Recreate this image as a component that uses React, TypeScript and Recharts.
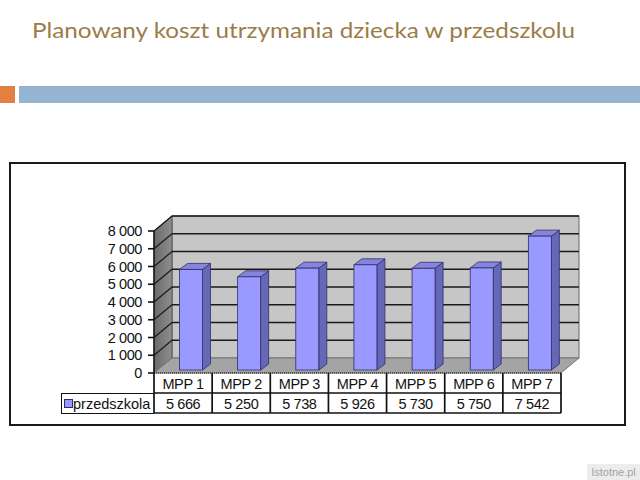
import React from 'react';
import { BarChart, Bar, XAxis, YAxis, CartesianGrid, ReferenceArea, Legend } from 'recharts';

const title = 'Planowany koszt utrzymania dziecka w przedszkolu';
const categories = ['MPP 1', 'MPP 2', 'MPP 3', 'MPP 4', 'MPP 5', 'MPP 6', 'MPP 7'];
const values = [5666, 5250, 5738, 5926, 5730, 5750, 7542];
const seriesName = 'przedszkola';
const yTicks = [0, 1000, 2000, 3000, 4000, 5000, 6000, 7000, 8000];
const gridValues = [1000, 2000, 3000, 4000, 5000, 6000, 7000, 8000];
const watermark = 'Istotne.pl';

const data = categories.map((c, i) => ({ name: c, [seriesName]: values[i] }));

const W = 640;
const H = 480;
const MARGIN = { top: 231, right: 79, bottom: 67, left: 0 };
const Y_W = 154;
const X_H = 40;
const PLOT_W = W - MARGIN.left - MARGIN.right - Y_W;
const COL_W = PLOT_W / categories.length;
const ROW = 20;
const DX = 18;
const DY = -15;
const FONT = '"Liberation Sans", Arial, sans-serif';
const FS = 14.5;
const LS = -0.4;
const LINE = '#111';

const fmt = (v: number) => String(v).replace(/\B(?=(\d{3})+(?!\d))/g, ' ');

const Walls = (props: any) => {
  const { x, y, width: w, height: h } = props;
  return (
    <g>
      <defs>
        <linearGradient id="sideGrad" x1="0" y1="0" x2="1" y2="0">
          <stop offset="0%" stopColor="#6a6a6a" />
          <stop offset="100%" stopColor="#8e8e8e" />
        </linearGradient>
      </defs>
      <rect x={x + DX} y={y + DY} width={w} height={h} fill="#c6c6c6" stroke="#666" strokeWidth={1} />
      <polygon
        points={`${x},${y} ${x + DX},${y + DY} ${x + DX},${y + h + DY} ${x},${y + h}`}
        fill="url(#sideGrad)"
        stroke="#555"
        strokeWidth={1}
      />
      <polygon
        points={`${x},${y + h} ${x + DX},${y + h + DY} ${x + w + DX},${y + h + DY} ${x + w},${y + h}`}
        fill="#a4a4a4"
        stroke="#777"
        strokeWidth={1}
      />
      <line x1={x} y1={y + h} x2={x + w} y2={y + h} stroke="#111" strokeWidth={1.2} strokeDasharray="1 1" />
    </g>
  );
};

const GridLine = (props: any) => {
  const { x1, y1, x2, y2 } = props;
  return (
    <g>
      <line x1={x1 + DX} y1={y1 + DY} x2={x2 + DX} y2={y2 + DY} stroke="#1a1a1a" strokeWidth={1.6} />
      <line x1={x1} y1={y1} x2={x1 + DX} y2={y1 + DY} stroke="#1a1a1a" strokeWidth={1.2} />
    </g>
  );
};

const OX = 7.5;
const OY = -3;
const BD = 8;
const BDY = 6;

const Bar3D = (props: any) => {
  const { x, y, width: w, height: h } = props;
  if (w == null || h == null) return null;
  const fx = x + OX;
  const fy = y + OY;
  return (
    <g>
      <polygon
        points={`${fx + w},${fy} ${fx + w + BD},${fy - BDY} ${fx + w + BD},${fy + h - BDY} ${fx + w},${fy + h}`}
        fill="#6767b8"
        stroke="#2e2e66"
        strokeWidth={0.8}
      />
      <polygon
        points={`${fx},${fy} ${fx + BD},${fy - BDY} ${fx + w + BD},${fy - BDY} ${fx + w},${fy}`}
        fill="#8585e0"
        stroke="#2e2e66"
        strokeWidth={0.8}
      />
      <rect x={fx} y={fy} width={w} height={h} fill="#9999ff" stroke="#2e2e66" strokeWidth={0.8} />
    </g>
  );
};

const XTick = (props: any) => {
  const { x, y, payload } = props;
  const i = categories.indexOf(payload.value);
  const left = x - COL_W / 2;
  const right = x + COL_W / 2;
  return (
    <g>
      <line x1={left} y1={y} x2={left} y2={y + ROW * 2} stroke={LINE} strokeWidth={1.7} />
      {i === categories.length - 1 && (
        <line x1={right} y1={y} x2={right} y2={y + ROW * 2} stroke={LINE} strokeWidth={1.7} />
      )}
      <line x1={left} y1={y + ROW} x2={right} y2={y + ROW} stroke={LINE} strokeWidth={1.7} />
      <line x1={left} y1={y + ROW * 2} x2={right} y2={y + ROW * 2} stroke={LINE} strokeWidth={1.7} />
      <text x={x} y={y + 16} textAnchor="middle" fontSize={FS} letterSpacing={LS} fontFamily={FONT} fill="#111">
        {payload.value}
      </text>
      <text x={x} y={y + ROW + 16} textAnchor="middle" fontSize={FS} letterSpacing={LS} fontFamily={FONT} fill="#111">
        {fmt(values[i])}
      </text>
    </g>
  );
};

const LegendCell = (props: any) => {
  const { payload } = props;
  const item = payload && payload[0];
  return (
    <div
      style={{
        width: 93,
        height: 21,
        boxSizing: 'border-box',
        borderTop: `1.7px solid ${LINE}`,
        borderBottom: `1.7px solid ${LINE}`,
        borderLeft: `1.7px solid ${LINE}`,
        display: 'flex',
        alignItems: 'center',
        paddingLeft: 2,
        fontFamily: FONT,
        fontSize: 14.5,
        color: '#111',
        whiteSpace: 'nowrap',
        overflow: 'visible',
      }}
    >
      <span
        style={{
          display: 'inline-block',
          flex: '0 0 auto',
          width: 7,
          height: 7,
          background: item ? item.color : '#9999ff',
          border: '1px solid #2e2e66',
          marginRight: 0,
        }}
      />
      <span>{item ? item.value : seriesName}</span>
    </div>
  );
};

export default function App() {
  return (
    <div style={{ position: 'absolute', left: 0, top: 0, width: W, height: H, background: '#fff', overflow: 'hidden' }}>
      <svg style={{ position: 'absolute', left: 0, top: 0 }} width={W} height={60}>
        <text
          x={32}
          y={38}
          fontSize={22}
          fontFamily='Lato, "Open Sans", sans-serif'
          fill="#9a7d48"
          textLength={543}
          lengthAdjust="spacingAndGlyphs"
        >
          {title}
        </text>
      </svg>
      <div style={{ position: 'absolute', left: 0, top: 86, width: 15, height: 17, background: '#e2813f' }} />
      <div style={{ position: 'absolute', left: 19, top: 86, width: 621, height: 17, background: '#95b4d1' }} />
      <div
        style={{
          position: 'absolute',
          left: 9,
          top: 162,
          width: 617,
          height: 264,
          boxSizing: 'border-box',
          border: '2px solid #1a1a1a',
        }}
      />
      <div
        style={{
          position: 'absolute',
          left: 587,
          top: 464,
          width: 53,
          height: 16,
          background: '#ececec',
          color: '#a3a3a3',
          fontFamily: FONT,
          fontSize: 11,
          lineHeight: '16px',
          textAlign: 'center',
        }}
      >
        {watermark}
      </div>
      <div style={{ position: 'absolute', left: 0, top: 0 }}>
        <BarChart width={W} height={H} data={data} margin={MARGIN}>
          <ReferenceArea y1={0} y2={8000} shape={Walls} zIndex={-200} ifOverflow="visible" />
          <CartesianGrid vertical={false} horizontal={GridLine} horizontalValues={gridValues} zIndex={-150} />
          <XAxis
            dataKey="name"
            height={X_H}
            axisLine={false}
            tickLine={false}
            tickSize={0}
            tickMargin={0}
            interval={0}
            tick={XTick}
          />
          <YAxis
            width={Y_W}
            domain={[0, 8000]}
            ticks={yTicks}
            interval={0}
            tickFormatter={fmt}
            tickSize={6}
            tickMargin={6}
            axisLine={{ stroke: '#111', strokeWidth: 1.4 }}
            tickLine={{ stroke: '#111', strokeWidth: 1.6 }}
            tick={{ fill: '#111', fontSize: FS, fontFamily: FONT, letterSpacing: LS }}
          />
          <Legend
            layout="horizontal"
            verticalAlign="middle"
            align="center"
            content={LegendCell}
            wrapperStyle={{ position: 'absolute', left: 61, top: 393, width: 93, height: 21 }}
          />
          <Bar dataKey={seriesName} name={seriesName} fill="#9999ff" barSize={23} shape={Bar3D} isAnimationActive={false} />
        </BarChart>
      </div>
    </div>
  );
}
